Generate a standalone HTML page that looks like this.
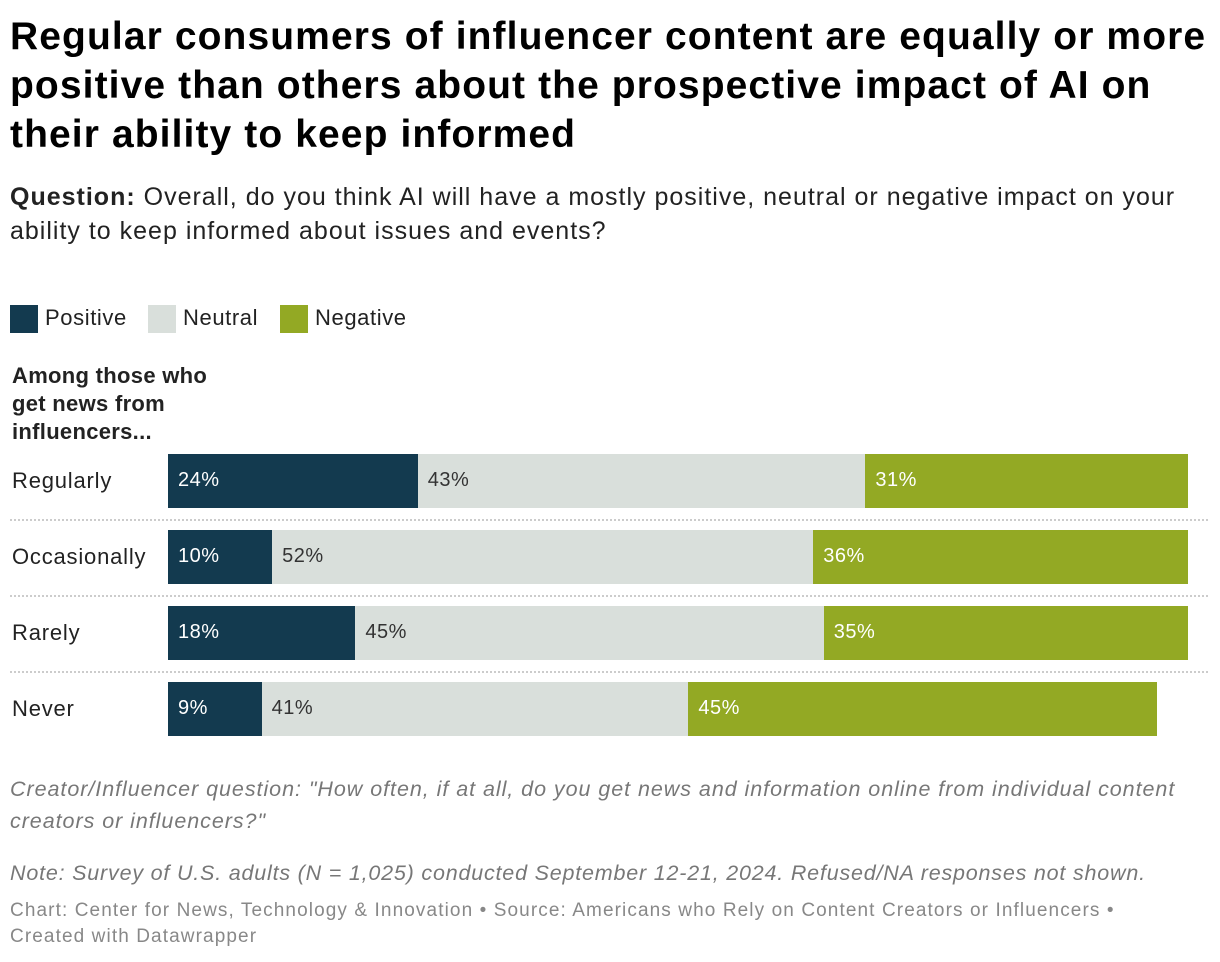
<!DOCTYPE html>
<html><head><meta charset="utf-8"><style>
body{margin:0;background:#fff;width:1220px;height:962px;overflow:hidden;font-family:"Liberation Sans",sans-serif;color:#181818;position:relative}
.a{position:absolute;white-space:nowrap}
h1{position:absolute;left:10px;top:12px;margin:0;font-size:39px;line-height:49px;font-weight:bold;color:#000;letter-spacing:1.1px;white-space:nowrap}
.sub{left:10px;top:180px;font-size:25px;line-height:34px;color:#222;letter-spacing:1px}
.leg{font-size:22px;color:#222;letter-spacing:0.6px}
.sw{position:absolute;width:28px;height:28px}
.rl{font-size:22px;color:#222;left:12px;letter-spacing:0.8px}
.foot{left:10px;font-size:21.5px;font-style:italic;color:#777;line-height:32px}
.cred{left:10px;font-size:19px;color:#888;line-height:26px;letter-spacing:1.1px}
</style></head><body>
<h1>Regular consumers of influencer content are equally or more<br>positive than others about the prospective impact of AI on<br>their ability to keep informed</h1>
<div class="a sub"><b>Question:</b> Overall, do you think AI will have a mostly positive, neutral or negative impact on your<br>ability to keep informed about issues and events?</div>
<div>
<div class="sw" style="left:10px;top:305px;background:#133a4f"></div>
<div class="a leg" style="left:45px;top:305px">Positive</div>
<div class="sw" style="left:148px;top:305px;background:#d9dfdb"></div>
<div class="a leg" style="left:183px;top:305px">Neutral</div>
<div class="sw" style="left:280px;top:305px;background:#93a924"></div>
<div class="a leg" style="left:315px;top:305px">Negative</div>
</div>
<div class="a" style="left:12px;top:362px;font-size:22px;font-weight:bold;line-height:28px;color:#222;letter-spacing:0.3px">Among those who<br>get news from<br>influencers...</div>
<div id="chart"></div>
<div class="a foot" style="top:773px;letter-spacing:0.95px">Creator/Influencer question: "How often, if at all, do you get news and information online from individual content<br>creators or influencers?"</div>
<div class="a foot" style="top:857px;letter-spacing:0.8px">Note: Survey of U.S. adults (N = 1,025) conducted September 12-21, 2024. Refused/NA responses not shown.</div>
<div class="a cred" style="top:898px">Chart: Center for News, Technology &amp; Innovation • Source: Americans who Rely on Content Creators or Influencers •<br>Created with Datawrapper</div>
<script>
const categories=["Regularly","Occasionally","Rarely","Never"];
const positive=[24,10,18,9];
const neutral=[43,52,45,41];
const negative=[31,36,35,45];
const seriesNames=["positive","neutral","negative"];
const colors=["#133a4f","#d9dfdb","#93a924"];
const textColors=["#fff","#333","#fff"];
const x0=168,x1=1188,top0=454,step=76,bh=54;
const maxTotal=Math.max(...categories.map((c,i)=>positive[i]+neutral[i]+negative[i]));
const xs=v=>v/maxTotal*(x1-x0);
const chart=document.getElementById('chart');
categories.forEach((c,i)=>{
  const y=top0+i*step;
  const lab=document.createElement('div');
  lab.className='a rl';lab.style.top=(y+14)+'px';lab.textContent=c;
  
  
  chart.appendChild(lab);
  let acc=0;
  [positive[i],neutral[i],negative[i]].forEach((v,s)=>{
    const b=document.createElement('div');
    b.className='a';
    b.style.cssText=`left:${x0+xs(acc)}px;top:${y}px;width:${xs(v)}px;height:${bh}px;background:${colors[s]};color:${textColors[s]};font-size:20px;line-height:${bh-2}px;box-sizing:border-box;padding-left:10px;letter-spacing:0.5px`;
    b.textContent=v+'%';
    
    
    chart.appendChild(b);
    acc+=v;
  });
  if(i<categories.length-1){
    const l=document.createElement('div');
    l.className='a';
    l.style.cssText=`left:10px;top:${y+bh+11}px;width:1198px;border-top:2px dotted #ccc`;
    
    
    chart.appendChild(l);
  }
});
</script>
</body></html>
